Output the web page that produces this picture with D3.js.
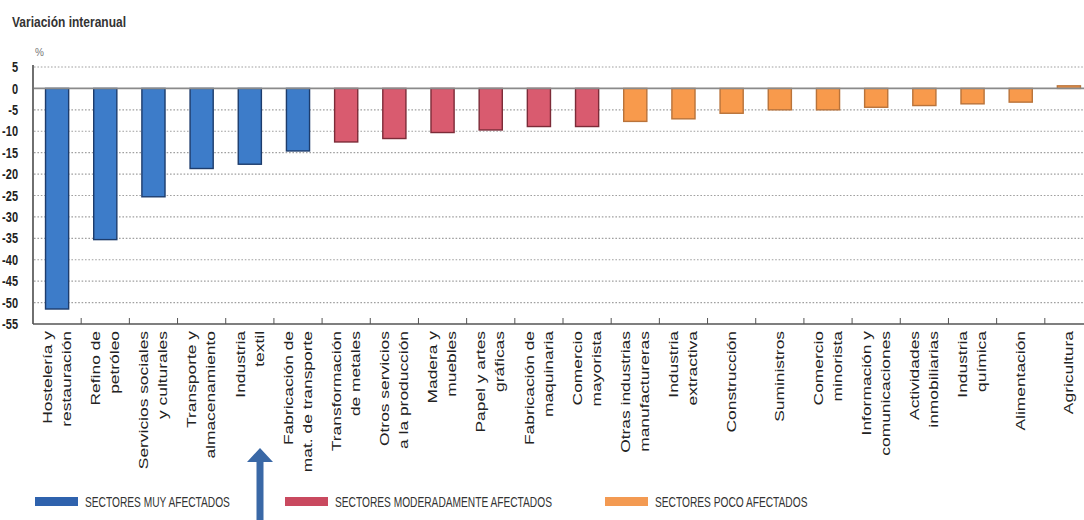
<!DOCTYPE html>
<html><head><meta charset="utf-8">
<script src="https://cdn.jsdelivr.net/npm/d3@7"></script>
<style>
html,body{margin:0;padding:0;background:#fff;}
svg{display:block;font-family:"Liberation Sans",Arial,sans-serif;}
</style></head>
<body>
<svg id="chart" width="1084" height="520"></svg>
<script>
// ---- data ----
const categories = [
  "Hostelería y restauración","Refino de petróleo","Servicios sociales y culturales",
  "Transporte y almacenamiento","Industria textil","Fabricación de mat. de transporte",
  "Transformación de metales","Otros servicios a la producción","Madera y muebles",
  "Papel y artes gráficas","Fabricación de maquinaria","Comercio mayorista",
  "Otras industrias manufactureras","Industria extractiva","Construcción","Suministros",
  "Comercio minorista","Información y comunicaciones","Actividades inmobiliarias",
  "Industria química","Alimentación","Agricultura"
];
const labelLines = [
  ["Hostelería y","restauración"],["Refino de","petróleo"],["Servicios sociales","y culturales"],
  ["Transporte y","almacenamiento"],["Industria","textil"],["Fabricación de","mat. de transporte"],
  ["Transformación","de metales"],["Otros servicios","a la producción"],["Madera y","muebles"],
  ["Papel y artes","gráficas"],["Fabricación de","maquinaria"],["Comercio","mayorista"],
  ["Otras industrias","manufactureras"],["Industria","extractiva"],["Construcción"],["Suministros"],
  ["Comercio","minorista"],["Información y","comunicaciones"],["Actividades","inmobiliarias"],
  ["Industria","química"],["Alimentación"],["Agricultura"]
];
const values = [-51.5,-35.3,-25.3,-18.7,-17.7,-14.6,-12.5,-11.7,-10.3,-9.7,-8.9,-8.9,
                -7.7,-7.1,-5.8,-5.0,-5.0,-4.4,-4.0,-3.6,-3.2,0.6];
const groupOf = [0,0,0,0,0,0,1,1,1,1,1,1,2,2,2,2,2,2,2,2,2,2];
const groupNames = ["SECTORES MUY AFECTADOS","SECTORES MODERADAMENTE AFECTADOS","SECTORES POCO AFECTADOS"];
const yTicks = [5,0,-5,-10,-15,-20,-25,-30,-35,-40,-45,-50,-55];
const titleText = "Variación interanual";
const unitText = "%";

// ---- styles ----
const fills = ["#3d7cc9","#d95b6f","#f89a4c"];
const strokes = ["#1d3c6c","#7c2b38","#b9733a"];
const swatch = ["#2f62ad","#c9495f","#f39a52"];

const svg = d3.select("#chart");
const x = d3.scaleBand().domain(categories).range([33,1093]).paddingInner(0.52).paddingOuter(0.26);
const xb = d3.scaleBand().domain(categories).range([33,1093]).padding(0);
const y = d3.scaleLinear().domain([-55,5]).range([324,67]);

// title
svg.append("text").attr("transform","translate(12,27) scale(1,1.2)")
  .attr("font-size",12).attr("font-weight","bold").attr("fill","#333").text(titleText);
svg.append("text").attr("x",35).attr("y",56).attr("font-size",10).attr("fill","#777").text(unitText);

// gridlines
svg.append("g").selectAll("line").data(yTicks.filter(d=>d!==0 && d!==-55)).join("line")
  .attr("x1",34).attr("x2",1084).attr("y1",d=>y(d)).attr("y2",d=>y(d))
  .attr("stroke","#a0a0a0").attr("stroke-width",1.2).attr("stroke-dasharray","1.6,1.8");

// y tick labels
svg.append("g").selectAll("text").data(yTicks).join("text")
  .attr("transform",d=>`translate(18,${y(d)}) scale(1,1.3)`)
  .attr("dy","0.36em").attr("text-anchor","end").attr("font-size",11).attr("font-weight","bold")
  .attr("fill","#222").text(d=>d);

// bars
svg.append("g").selectAll("rect").data(values).join("rect")
  .attr("x",(d,i)=>x(categories[i]))
  .attr("width",x.bandwidth())
  .attr("y",d=>y(Math.max(0,d)))
  .attr("height",d=>Math.abs(y(d)-y(0)))
  .attr("fill",(d,i)=>fills[groupOf[i]])
  .attr("stroke",(d,i)=>strokes[groupOf[i]])
  .attr("stroke-width",1.4);

// zero line
svg.append("line").attr("x1",34).attr("x2",1084).attr("y1",y(0)).attr("y2",y(0))
  .attr("stroke","#8a8a8a").attr("stroke-width",1.6);

// axes lines
svg.append("line").attr("x1",33).attr("x2",33).attr("y1",y(5)-2).attr("y2",y(-55))
  .attr("stroke","#333").attr("stroke-width",1.4);
svg.append("line").attr("x1",33).attr("x2",1084).attr("y1",y(-55)).attr("y2",y(-55))
  .attr("stroke","#555").attr("stroke-width",1.6);
// x ticks (band boundaries, pointing up)
svg.append("g").selectAll("line").data(categories.slice(1)).join("line")
  .attr("x1",d=>xb(d)).attr("x2",d=>xb(d)).attr("y1",y(-55)).attr("y2",y(-55)-6)
  .attr("stroke","#555").attr("stroke-width",1);

// x labels
const lg = svg.append("g").selectAll("g").data(categories).join("g")
  .attr("transform",d=>`translate(${x(d)+x.bandwidth()/2},331)`);
lg.each(function(d,i){
  const lines = labelLines[i];
  const n = lines.length;
  d3.select(this).selectAll("text").data(lines).join("text")
    .attr("transform",(t,j)=>`translate(${(j-(n-1)/2)*19},0) rotate(-90) scale(1.45,1)`)
    .attr("dy","0.35em").attr("text-anchor","end").attr("font-size",12).attr("fill","#222")
    .text(t=>t);
});

// legend
const legX = [35,285,605];
const leg = svg.append("g").selectAll("g").data(groupNames).join("g")
  .attr("transform",(d,i)=>`translate(${legX[i]},497)`);
leg.append("rect").attr("width",43).attr("height",9).attr("fill",(d,i)=>swatch[i]);
leg.append("text").attr("transform","translate(50,10) scale(1,1.4)")
  .attr("font-size",10.2).attr("fill","#333").text(d=>d);

// arrow annotation
svg.append("path")
  .attr("d","M260,448 L273,462 L263.5,462 L263.5,520 L256.5,520 L256.5,462 L247,462 Z")
  .attr("fill","#3a68a6");
</script>
</body></html>
